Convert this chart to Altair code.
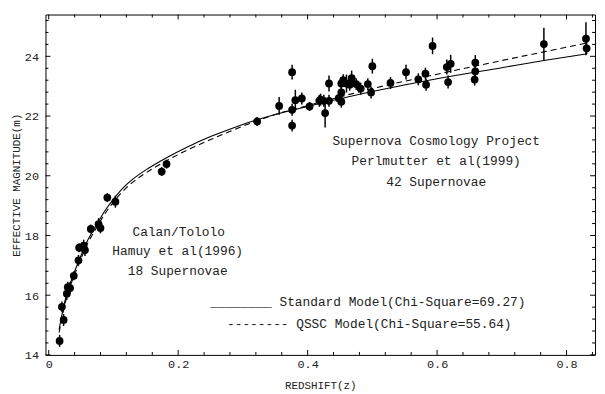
import altair as alt
import pandas as pd

# ---------------- data ----------------
# Calan/Tololo (Hamuy et al 1996) 18 supernovae
low_z = [0.0168, 0.0204, 0.023, 0.028, 0.0295, 0.033, 0.0387, 0.046, 0.047,
         0.054, 0.056, 0.065, 0.077, 0.080, 0.0905, 0.103, 0.1745, 0.182]
low_m = [14.47, 15.61, 15.17, 16.05, 16.27, 16.24, 16.65, 17.17, 17.59,
         17.66, 17.51, 18.22, 18.38, 18.25, 19.27, 19.13, 20.14, 20.39]
low_err = [0.2, 0.18, 0.2, 0.2, 0.18, 0.2, 0.15, 0.18, 0.15,
           0.2, 0.2, 0.15, 0.2, 0.18, 0.15, 0.2, 0.15, 0.15]

# Supernova Cosmology Project (Perlmutter et al 1999) 42 supernovae
high_z = [0.322, 0.356, 0.376, 0.376, 0.376, 0.381, 0.391, 0.403, 0.418, 0.425,
          0.427, 0.433, 0.433, 0.452, 0.452, 0.452, 0.460, 0.468, 0.475, 0.482,
          0.493, 0.498, 0.500, 0.528, 0.552, 0.571, 0.582, 0.583, 0.593, 0.615,
          0.621, 0.617, 0.659, 0.659, 0.658, 0.765, 0.830, 0.831,
          0.455, 0.465, 0.420, 0.448]
high_m = [21.82, 22.34, 23.47, 22.21, 21.68, 22.53, 22.59, 22.32, 22.51, 22.51,
          22.10, 22.51, 23.09, 23.09, 22.79, 22.48, 23.09, 23.27, 23.07, 22.92,
          23.07, 22.79, 23.67, 23.11, 23.47, 23.23, 23.42, 23.05, 24.35, 23.64,
          23.75, 23.14, 23.79, 23.50, 23.22, 24.41, 24.59, 24.27,
          23.20, 23.05, 22.55, 22.60]
high_err = [0.15, 0.30, 0.25, 0.20, 0.20, 0.35, 0.20, 0.15, 0.20, 0.20,
            0.48, 0.20, 0.27, 0.20, 0.25, 0.20, 0.30, 0.25, 0.20, 0.20,
            0.20, 0.20, 0.25, 0.20, 0.25, 0.20, 0.20, 0.20, 0.28, 0.25,
            0.30, 0.22, 0.25, 0.20, 0.20, 0.55, 0.55, 0.20,
            0.20, 0.20, 0.20, 0.20]

# model curves
curve_z = [0.016, 0.02, 0.025, 0.03, 0.037, 0.045, 0.052, 0.06, 0.07, 0.078,
           0.09, 0.1, 0.108, 0.12, 0.129, 0.154, 0.18, 0.215, 0.251, 0.287,
           0.317, 0.35, 0.4, 0.5, 0.6, 0.7, 0.765, 0.83]
standard_m = [14.85, 15.3, 15.8, 16.2, 16.62, 17.07, 17.44, 17.83, 18.22, 18.52,
              18.93, 19.22, 19.43, 19.7, 19.87, 20.25, 20.58, 20.97, 21.32, 21.62,
              21.84, 22.05, 22.32, 22.82, 23.25, 23.62, 23.86, 24.08]
qssc_m = [14.75, 15.2, 15.7, 16.1, 16.52, 16.97, 17.34, 17.73, 18.12, 18.42,
          18.83, 19.12, 19.33, 19.6, 19.77, 20.15, 20.48, 20.87, 21.22, 21.55,
          21.8, 22.05, 22.35, 22.92, 23.4, 23.86, 24.15, 24.44]

x_major = [0, 0.2, 0.4, 0.6, 0.8]
x_minor = [0.04, 0.08, 0.12, 0.16, 0.24, 0.28, 0.32, 0.36, 0.44, 0.48, 0.52,
           0.56, 0.64, 0.68, 0.72, 0.76, 0.84]
y_major = [14, 16, 18, 20, 22, 24]
y_minor = [14.4, 14.8, 15.2, 15.6, 16.4, 16.8, 17.2, 17.6, 18.4, 18.8, 19.2,
           19.6, 20.4, 20.8, 21.2, 21.6, 22.4, 22.8, 23.2, 23.6, 24.4, 24.8, 25.2]

label_top = ["Supernova Cosmology Project", "Perlmutter et al(1999)", "42 Supernovae"]
label_low = ["Calan/Tololo", "Hamuy et al(1996)", "18 Supernovae"]
legend_std = "________ Standard Model(Chi-Square=69.27)"
legend_qssc = "-------- QSSC Model(Chi-Square=55.64)"
x_title = "REDSHIFT(z)"
y_title = "EFFECTIVE MAGNITUDE(m)"

# ---------------- chart ----------------
W, H = 557, 345
FONT = "Liberation Mono"
xs = alt.Scale(domain=[-0.005, 0.844], nice=False, zero=False)
ys = alt.Scale(domain=[14, 25.4], nice=False, zero=False)

pts = pd.DataFrame({
    "z": low_z + high_z,
    "m": low_m + high_m,
    "e": low_err + high_err,
})
pts["lo"] = pts["m"] - pts["e"]
pts["hi"] = pts["m"] + pts["e"]

curves = pd.DataFrame({"z": curve_z, "std": standard_m, "qssc": qssc_m})

x_axis = alt.Axis(values=x_major, title=x_title, grid=False, ticks=False,
                  tickSize=0, domain=False, labelPadding=4,
                  labelExpr="datum.value == 0 ? '0' : format(datum.value, '.1f')",
                  titlePadding=10)
y_axis = alt.Axis(values=y_major, title=y_title, grid=False, ticks=False,
                  tickSize=0, domain=False, labelPadding=7, format="d",
                  titlePadding=3)

errs = alt.Chart(pts).mark_rule(color="black", strokeWidth=1.5).encode(
    x=alt.X("z:Q", scale=xs, axis=x_axis),
    y=alt.Y("lo:Q", scale=ys, axis=y_axis), y2="hi:Q")
dots = alt.Chart(pts).mark_circle(color="black", opacity=1, size=62).encode(
    x=alt.X("z:Q", scale=xs), y=alt.Y("m:Q", scale=ys))

line_std = alt.Chart(curves).mark_line(color="black", strokeWidth=1.1,
                                       interpolate="monotone").encode(
    x=alt.X("z:Q", scale=xs), y=alt.Y("std:Q", scale=ys))
line_qssc = alt.Chart(curves).mark_line(color="black", strokeWidth=1.1,
                                        strokeDash=[6, 4],
                                        interpolate="monotone").encode(
    x=alt.X("z:Q", scale=xs), y=alt.Y("qssc:Q", scale=ys))


def tick_layers(vals, length):
    d = pd.DataFrame({"v": vals})
    xv = alt.X("v:Q", scale=xs)
    return [
        alt.Chart(d).mark_rule(color="black").encode(
            x=xv, y=alt.value(H), y2=alt.value(H - length)),
        alt.Chart(d).mark_rule(color="black").encode(
            x=xv, y=alt.value(0), y2=alt.value(length)),
    ]


def ytick_layers(vals, length):
    d = pd.DataFrame({"v": vals})
    yv = alt.Y("v:Q", scale=ys)
    return [
        alt.Chart(d).mark_rule(color="black").encode(
            y=yv, x=alt.value(0), x2=alt.value(length)),
        alt.Chart(d).mark_rule(color="black").encode(
            y=yv, x=alt.value(W), x2=alt.value(W - length)),
    ]


ticks = (tick_layers(x_major, 5) + tick_layers(x_minor, 3)
         + ytick_layers(y_major, 5) + ytick_layers(y_minor, 3))

one = pd.DataFrame({"k": [0]})


def txt(s, x, y, align="center"):
    return alt.Chart(one).mark_text(text=s, font=FONT, fontSize=13, color="#222",
                                    align=align, baseline="middle").encode(
        x=alt.value(x), y=alt.value(y))


texts = [
    txt(label_top[0], 396, 128), txt(label_top[1], 396, 149), txt(label_top[2], 396, 170),
    txt(label_low[0], 135, 220), txt(label_low[1], 134, 240), txt(label_low[2], 134, 260),
    txt(legend_std, 167, 291, "left"), txt(legend_qssc, 184, 314, "left"),
]

chart = alt.layer(errs, line_std, line_qssc, dots, *texts, *ticks).properties(
    width=W, height=H,
    autosize=alt.AutoSizeParams(type="none"),
    padding={"left": 38, "top": 4, "right": 2, "bottom": 37},
    background="white",
).configure_view(stroke="black", strokeWidth=1).configure_axis(
    labelFont=FONT, titleFont=FONT, labelFontSize=12, titleFontSize=11,
    labelColor="#222", titleColor="#222", titleFontWeight="normal",
)

chart.save("out.html", embed_options={"renderer": "svg", "actions": False})
